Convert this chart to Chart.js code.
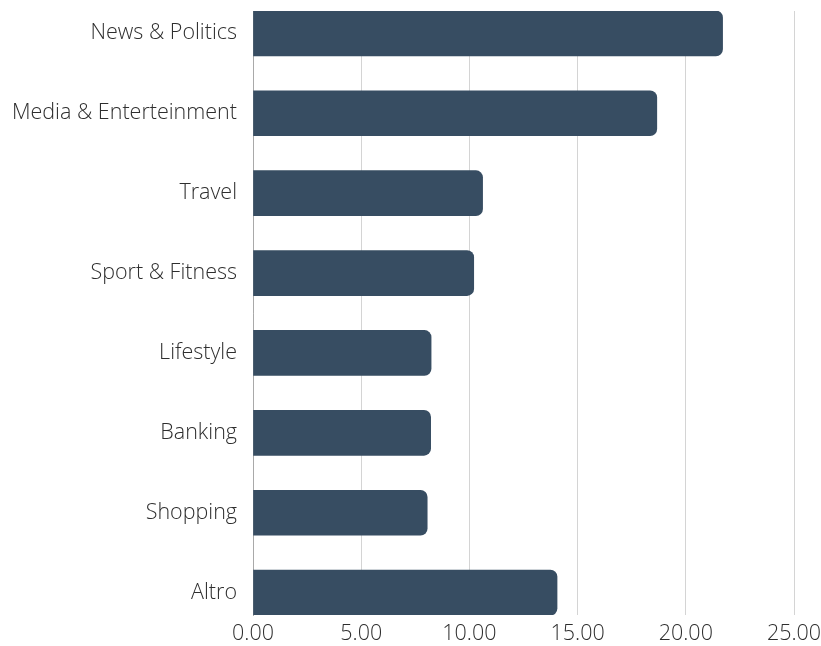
<!DOCTYPE html>
<html>
<head>
<meta charset="utf-8">
<script src="https://cdn.jsdelivr.net/npm/chart.js@4"></script>
<style>
  html, body { margin: 0; padding: 0; background: #fff; }
  #wrap { width: 821px; height: 646px; }
</style>
</head>
<body>
<div id="wrap"><canvas id="shareChart" width="821" height="646"></canvas></div>
<script>
const categories = [
  'News & Politics', 'Media & Enterteinment', 'Travel', 'Sport & Fitness',
  'Lifestyle', 'Banking', 'Shopping', 'Altro'
];
const shares = [21.70, 18.66, 10.61, 10.20, 8.23, 8.21, 8.05, 14.05];
const xTicks = [0, 5, 10, 15, 20, 25];

const barColor = '#374d62';
const labelFont = { family: "'Open Sans', sans-serif", size: 21.5, weight: 300 };

window.addEventListener('DOMContentLoaded', () => {
  const ctx = document.getElementById('shareChart').getContext('2d');

  new Chart(ctx, {
    type: 'bar',
    data: {
      datasets: [{
        // linear index axis so the first/last bars sit flush with the grid ends
        data: categories.map((c, i) => ({ x: shares[i], y: i })),
        backgroundColor: barColor,
        borderWidth: 0,
        borderRadius: 7,
        borderSkipped: 'start',
        barThickness: 45
      }]
    },
    options: {
      indexAxis: 'y',
      responsive: false,
      maintainAspectRatio: false,
      animation: false,
      layout: { padding: { top: 11, right: 27, left: 0, bottom: 0 } },
      plugins: {
        legend: { display: false },
        tooltip: { enabled: false }
      },
      scales: {
        y: {
          type: 'linear',
          offset: false,
          reverse: true,
          min: -0.28,
          max: 7.28,
          afterBuildTicks: s => { s.ticks = categories.map((c, i) => ({ value: i })); },
          afterFit: s => { s.width = 253; s.paddingTop = 0; s.paddingBottom = 0; },
          grid: { display: false, drawTicks: false, offset: false },
          border: { display: true, color: '#a9a9a9', width: 1 },
          ticks: {
            padding: 16,
            color: '#2e2e2e',
            font: labelFont,
            callback: v => categories[v] ?? ''
          }
        },
        x: {
          min: 0,
          max: 25,
          afterBuildTicks: s => { s.ticks = xTicks.map(v => ({ value: v })); },
          afterFit: s => { s.height = 31; s.paddingLeft = 0; s.paddingRight = 0; },
          grid: { color: '#d4d4d4', drawTicks: false, lineWidth: 1 },
          border: { display: false },
          ticks: {
            padding: 6,
            color: '#2e2e2e',
            font: labelFont,
            maxRotation: 0,
            callback: v => Number(v).toFixed(2)
          }
        }
      }
    }
  });
});
</script>
</body>
</html>
